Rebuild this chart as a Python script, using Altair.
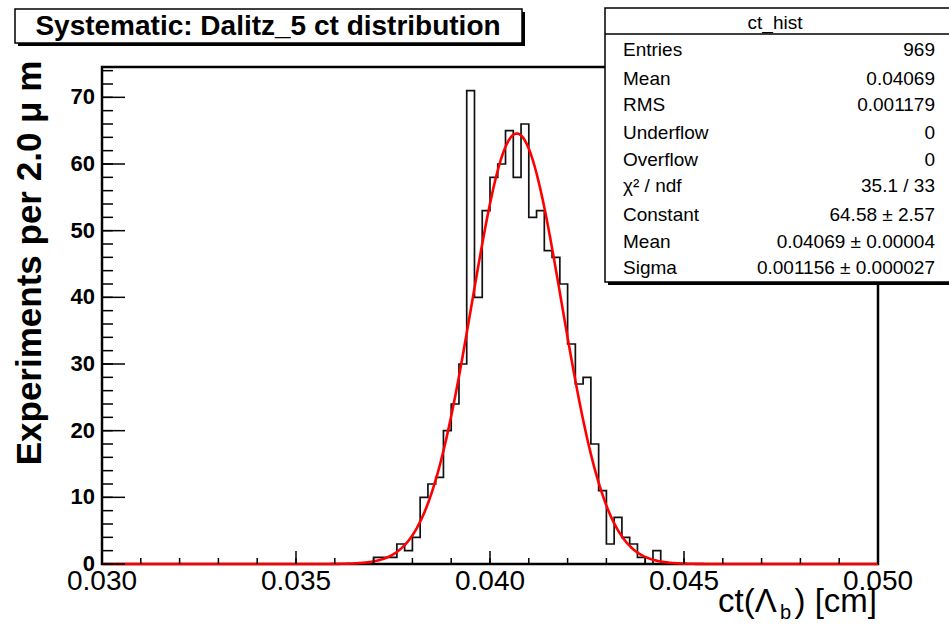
import numpy as np
import pandas as pd
import altair as alt

# ---------------- data ----------------
x_min, x_max = 0.030, 0.050
bin_width = 0.0002
first_bin_low = 0.0370
counts = [1, 1, 1, 3, 2, 4, 10, 12, 13, 20, 24, 30, 71, 40, 53, 58, 60, 65,
          58, 66, 52, 53, 47, 46, 42, 33, 27, 28, 18, 11, 3, 7, 4, 3, 1, 0, 2]

fit_constant = 64.58
fit_mean = 0.04069
fit_sigma = 0.001156

x_major = [0.030, 0.035, 0.040, 0.045, 0.050]
x_major_labels = ["0.030", "0.035", "0.040", "0.045", "0.050"]
x_minor = [0.030 + 0.001 * i for i in range(21)]
y_major = [0, 10, 20, 30, 40, 50, 60, 70]
y_major_labels = ["0", "10", "20", "30", "40", "50", "60", "70"]
y_minor = list(range(0, 75, 2))
y_top = 74.55

stat_names = ["Entries", "Mean", "RMS", "Underflow", "Overflow", "χ² / ndf",
              "Constant", "Mean", "Sigma"]
stat_values = ["969", "0.04069", "0.001179", "0", "0", "35.1 / 33",
               "64.58 ± 2.57", "0.04069 ± 0.00004", "0.001156 ± 0.000027"]
stat_baselines = [-11, 18, 44, 72, 99, 125, 154, 181, 207]

title_text = "Systematic: Dalitz_5 ct distribution"
y_title_text = "Experiments per 2.0 μ m"

# ---------------- tables ----------------
nbins = int(round((x_max - x_min) / bin_width))
start = int(round((first_bin_low - x_min) / bin_width))
full = [0] * nbins
for i, c in enumerate(counts):
    full[start + i] = c
hist_df = pd.DataFrame({
    "x": [x_min + i * bin_width for i in range(nbins + 1)],
    "y": full + [0],
})

xf = np.linspace(x_min, x_max, 600)
fit_df = pd.DataFrame({
    "x": xf,
    "y": fit_constant * np.exp(-0.5 * ((xf - fit_mean) / fit_sigma) ** 2),
})

W, H = 776, 497
FONT = "Liberation Sans"
xs = alt.Scale(domain=[x_min, x_max], nice=False, zero=False)
ys = alt.Scale(domain=[0, y_top], nice=False)
one = pd.DataFrame({"a": [0]})

hist = alt.Chart(hist_df).mark_line(
    interpolate="step-after", color="#111111", strokeWidth=1.7
).encode(x=alt.X("x:Q", scale=xs, axis=None), y=alt.Y("y:Q", scale=ys, axis=None))

fit = alt.Chart(fit_df).mark_line(color="#ff0000", strokeWidth=2.6).encode(
    x=alt.X("x:Q", scale=xs, axis=None), y=alt.Y("y:Q", scale=ys, axis=None))

xmaj = alt.Chart(pd.DataFrame({"v": x_major, "t": x_major_labels}))
xmin_ = alt.Chart(pd.DataFrame({"v": x_minor}))
ymaj = alt.Chart(pd.DataFrame({"v": y_major, "t": y_major_labels}))
ymin_ = alt.Chart(pd.DataFrame({"v": y_minor}))

x_major_ticks = xmaj.mark_rule(color="black", strokeWidth=1.5).encode(
    x=alt.X("v:Q", scale=xs, axis=None), y=alt.value(H), y2=alt.value(H - 13))
x_minor_ticks = xmin_.mark_rule(color="black", strokeWidth=1.5).encode(
    x=alt.X("v:Q", scale=xs, axis=None), y=alt.value(H), y2=alt.value(H - 6))
y_major_ticks = ymaj.mark_rule(color="black", strokeWidth=1.5).encode(
    y=alt.Y("v:Q", scale=ys, axis=None), x=alt.value(0), x2=alt.value(23))
y_minor_ticks = ymin_.mark_rule(color="black", strokeWidth=1.5).encode(
    y=alt.Y("v:Q", scale=ys, axis=None), x=alt.value(0), x2=alt.value(11))

x_labels = xmaj.mark_text(font=FONT, fontSize=28, align="center",
                          baseline="alphabetic", color="black").encode(
    x=alt.X("v:Q", scale=xs, axis=None), y=alt.value(523), text="t:N")
y_labels = ymaj.mark_text(font=FONT, fontSize=22, fontWeight="bold", align="right",
                          baseline="middle", color="black").encode(
    y=alt.Y("v:Q", scale=ys, axis=None), x=alt.value(-7), text="t:N")

# axis titles
y_title = alt.Chart(one).mark_text(font=FONT, fontSize=35, fontWeight="bold", angle=270,
                                   align="center", baseline="alphabetic", color="black").encode(
    x=alt.value(-61), y=alt.value(196), text=alt.value(y_title_text))
xt1 = alt.Chart(one).mark_text(font=FONT, fontSize=33, align="left",
                               baseline="alphabetic", color="black").encode(
    x=alt.value(616), y=alt.value(545), text=alt.value("ct(Λ"))
xt2 = alt.Chart(one).mark_text(font=FONT, fontSize=20, align="left",
                               baseline="alphabetic", color="black").encode(
    x=alt.value(678), y=alt.value(552), text=alt.value("b"))
xt3 = alt.Chart(one).mark_text(font=FONT, fontSize=33, align="right",
                               baseline="alphabetic", color="black").encode(
    x=alt.value(775), y=alt.value(545), text=alt.value(") [cm]"))

# title box
tb_shadow = alt.Chart(one).mark_rect(color="black").encode(
    x=alt.value(-84), x2=alt.value(423), y=alt.value(-55), y2=alt.value(-21))
tb = alt.Chart(one).mark_rect(fill="white", stroke="black", strokeWidth=1.5).encode(
    x=alt.value(-87), x2=alt.value(420), y=alt.value(-58), y2=alt.value(-24))
tt = alt.Chart(one).mark_text(font=FONT, fontSize=28, fontWeight="bold", align="center",
                              baseline="middle", color="black").encode(
    x=alt.value(166), y=alt.value(-40), text=alt.value(title_text))

# stats box
sb_shadow = alt.Chart(one).mark_rect(color="black").encode(
    x=alt.value(506), x2=alt.value(860), y=alt.value(-56), y2=alt.value(218))
sb = alt.Chart(one).mark_rect(fill="white", stroke="black", strokeWidth=1.5).encode(
    x=alt.value(503), x2=alt.value(860), y=alt.value(-59), y2=alt.value(215))
sb_line = alt.Chart(one).mark_rule(color="black", strokeWidth=1.5).encode(
    x=alt.value(503), x2=alt.value(860), y=alt.value(-33))
sb_head = alt.Chart(one).mark_text(font=FONT, fontSize=19, align="center",
                                   baseline="alphabetic", color="black").encode(
    x=alt.value(673), y=alt.value(-38), text=alt.value("ct_hist"))
stats_df = pd.DataFrame({"n": stat_names, "v": stat_values, "b": stat_baselines})
st_names = alt.Chart(stats_df).mark_text(font=FONT, fontSize=19, align="left",
                                         baseline="alphabetic", color="black").encode(
    x=alt.value(521), y=alt.Y("b:Q", scale=None, axis=None), text="n:N")
st_vals = alt.Chart(stats_df).mark_text(font=FONT, fontSize=19, align="right",
                                        baseline="alphabetic", color="black").encode(
    x=alt.value(833), y=alt.Y("b:Q", scale=None, axis=None), text="v:N")

chart = alt.layer(
    hist, fit, x_minor_ticks, x_major_ticks, y_minor_ticks, y_major_ticks,
    x_labels, y_labels, y_title, xt1, xt2, xt3,
    tb_shadow, tb, tt, sb_shadow, sb, sb_line, sb_head, st_names, st_vals,
).properties(
    width=W, height=H,
    autosize=alt.AutoSizeParams(type="none"),
    padding={"left": 102, "top": 67, "right": 71, "bottom": 61},
    background="white",
).configure_view(stroke="black", strokeWidth=2.5)

chart.save("out.html", embed_options={"renderer": "svg", "actions": False})
